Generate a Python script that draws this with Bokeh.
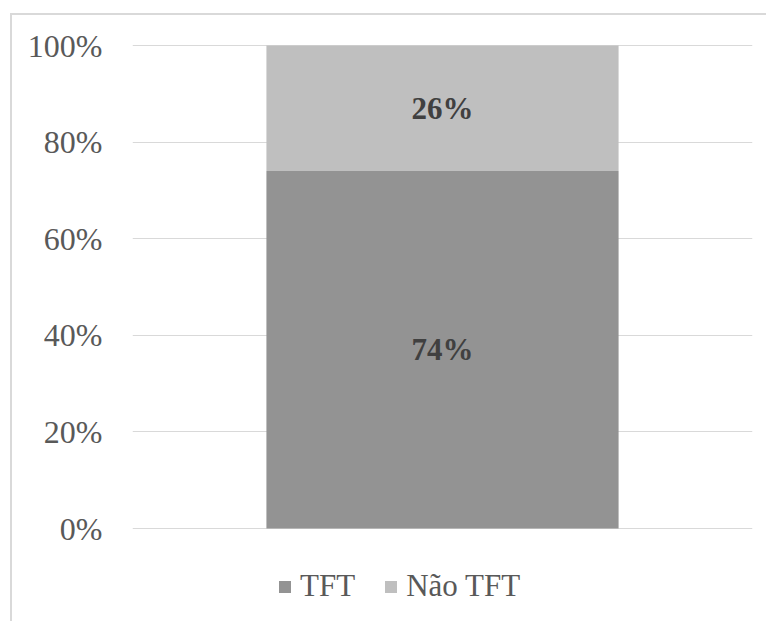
from bokeh.plotting import figure
from bokeh.models import (ColumnDataSource, FixedTicker, NumeralTickFormatter, Legend,
                          LegendItem, Range1d, FactorRange, LabelSet)
from bokeh.embed import file_html
from bokeh.resources import INLINE

categories = ["Total"]
series_names = ["TFT", "Não TFT"]
tft = [0.74]
nao_tft = [0.26]
data_labels = ["74%", "26%"]
y_ticks = [0, 0.2, 0.4, 0.6, 0.8, 1.0]
colors = ["#939393", "#bfbfbf"]

FONT = "Liberation Serif"

# pixel geometry of the plotting frame
PX_PER_UNIT = 483.0
frame_top, frame_bottom = 28, 600
y_end = 1 + 2 / PX_PER_UNIT
y_start = y_end - (frame_bottom - frame_top) / PX_PER_UNIT

p = figure(width=756, height=608, x_range=FactorRange(*categories),
           y_range=Range1d(y_start, y_end),
           output_backend="svg", toolbar_location=None,
           min_border_left=120, min_border_right=16, min_border_top=frame_top,
           min_border_bottom=608 - frame_bottom)
p.outline_line_color = None
p.styles = {"margin-left": "10px", "margin-top": "13px",
            "border-top": "2px solid #d9d9d9", "border-left": "2px solid #d9d9d9"}

src = ColumnDataSource(dict(cat=categories, TFT=tft, NaoTFT=nao_tft))
r = p.vbar_stack(["TFT", "NaoTFT"], x="cat", width=0.568, color=colors, line_color=None, source=src)

# data labels
lab_src = ColumnDataSource(dict(
    x=[categories[0], categories[0]],
    y=[tft[0] / 2, tft[0] + nao_tft[0] / 2],
    t=data_labels))
labels = LabelSet(x="x", y="y", text="t", source=lab_src, text_align="center",
                  text_baseline="middle", text_font=FONT, text_font_size="31px",
                  text_font_style="bold", text_color="#404040")
p.add_layout(labels)

p.xaxis.visible = False
p.xgrid.grid_line_color = None
p.ygrid.grid_line_color = "#d9d9d9"
p.ygrid.grid_line_width = 1
p.yaxis.ticker = FixedTicker(ticks=y_ticks)
p.yaxis.formatter = NumeralTickFormatter(format="0%")
p.yaxis.axis_line_color = None
p.yaxis.major_tick_line_color = None
p.yaxis.minor_tick_line_color = None
p.yaxis.major_label_text_font = FONT
p.yaxis.major_label_text_font_size = "32px"
p.yaxis.major_label_text_color = "#595959"
p.yaxis.major_label_standoff = 24

legend = Legend(items=[LegendItem(label=series_names[0], renderers=[r[0]]),
                       LegendItem(label=series_names[1], renderers=[r[1]])],
                orientation="horizontal", location=(145, 11),
                label_text_font=FONT, label_text_font_size="31px", label_text_color="#595959",
                glyph_width=15, glyph_height=15, label_standoff=8, spacing=28,
                padding=0, margin=0, border_line_color=None, background_fill_alpha=0)
p.add_layout(legend, "center")

open("out.html", "w").write(file_html(p, INLINE))
